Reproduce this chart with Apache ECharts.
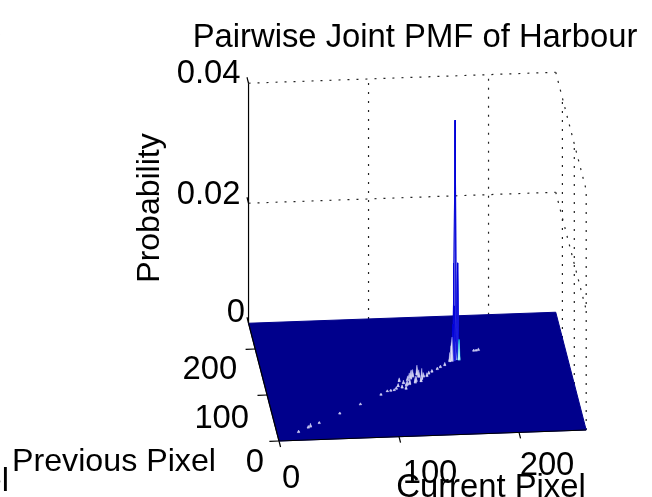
<!DOCTYPE html>
<html>
<head>
<meta charset="utf-8">
<style>html,body{margin:0;padding:0;background:#fff;overflow:hidden}#c{width:652px;height:497px}</style>
<script src="https://cdn.jsdelivr.net/npm/echarts@6/dist/echarts.min.js"></script>
</head>
<body>
<div id="c"></div>
<script>
// ---- data ----
var chartTitle = 'Pairwise Joint PMF of Harbour';
var currentTicks = [0, 100, 200];
var previousTicks = [0, 100, 200];
var probabilityTicks = [0, 0.02, 0.04];
var probabilityTickLabels = ['0', '0.02', '0.04'];
// non-zero cells of the joint PMF
var currentPixel = [18,27,29,37,56,75,94,
  100,103,106,108,110,113,115,117,119,120,122,124,126,128,129,131,133,136,138,141,146,149,153,
  112,116,121,125,130,118,123,
  180,182,184,
  158,159,160,161,161,162,165,163,166,162,163];
var previousPixel = [17,26,28,35,54,72,91,
  98,99,100,103,108,105,114,109,120,112,124,128,118,132,127,122,127,128,133,137,142,146,150,
  119,102,125,115,117,111,130,
  179,179,180,
  158,159,159,160,162,161,163,162,161,163,163];
var probability = [0.0004,0.0004,0.0006,0.0003,0.0003,0.0003,0.0003,
  0.0003,0.0003,0.0003,0.0004,0.0005,0.0005,0.0006,0.0007,0.0008,0.001,0.0012,0.0012,0.0008,0.0016,0.0012,0.0018,0.0007,0.0006,0.0005,0.0004,0.0004,0.0004,0.0005,
  0.0006,0.0005,0.0009,0.0011,0.0008,0.0007,0.001,
  0.0003,0.0003,0.0004,
  0.0015,0.0025,0.004,0.006,0.004,0.009,0.016,0.003,0.0034,0.016,0.0398];

// ---- view of the 3-D box ----
var DOMAIN = 256, ZMAX = 0.04;
var view = {ox: 279, oy: 441, xx: 1.2, xy: -0.043, yx: -0.119, yy: -0.46, zy: -6000};
function project(x, y, z) {
  return [view.ox + view.xx * x + view.yx * y, view.oy + view.xy * x + view.yy * y + view.zy * z];
}
var FONT = '32.8px "Liberation Sans", Arial, sans-serif';
var INK = '#000', DOT = '#222', FLOOR = '#00008c', SPIKE = '#0000d8';

// ---- mesh quads round every non-zero vertex ----
var heights = {};
currentPixel.forEach(function (x, i) { heights[x + '_' + previousPixel[i]] = probability[i]; });
function h(x, y) { return heights[x + '_' + y] || 0; }
var quadSet = {};
currentPixel.forEach(function (x, i) {
  var y = previousPixel[i];
  [[x-1,y-1],[x,y-1],[x-1,y],[x,y]].forEach(function (q) { quadSet[q[0] + '_' + q[1]] = q; });
});
var quads = Object.keys(quadSet).map(function (k) { return quadSet[k]; });
quads.sort(function (a, b) { return b[1] - a[1] || a[0] - b[0]; });
function edgeColor(z) {
  if (z >= 0.0032 && z < 0.0036) return '#00c8e0';
  if (z >= 0.006) return SPIKE;
  return '#8a8ae0';
}

// ---- box segments ----
var dotted = [];
probabilityTicks.slice(1).forEach(function (z) {
  dotted.push([0, DOMAIN, z, DOMAIN, DOMAIN, z]);
  dotted.push([DOMAIN, DOMAIN, z, DOMAIN, 0, z]);
});
currentTicks.slice(1).forEach(function (x) { dotted.push([x, DOMAIN, 0, x, DOMAIN, ZMAX]); });
previousTicks.forEach(function (y) { dotted.push([DOMAIN, y, 0, DOMAIN, y, ZMAX]); });

var solid = [
  [0, DOMAIN, 0, 0, DOMAIN, ZMAX],
  [0, DOMAIN, 0, 0, 0, 0],
  [0, 0, 0, DOMAIN, 0, 0]
];
currentTicks.forEach(function (x) { solid.push([x, 0, 0, x, -13, 0]); });
previousTicks.forEach(function (y) { solid.push([0, y, 0, -8, y, 0]); });
probabilityTicks.forEach(function (z) { solid.push([0, DOMAIN, z, 0, DOMAIN + 13, z]); });

// ---- tick label placement relative to the projected tick ----
var labelItems = [];
var zOff = [[-3.5, -10], [-8, -8], [-8, -9]];
probabilityTicks.forEach(function (z, i) {
  labelItems.push({p: [0, DOMAIN, z], t: probabilityTickLabels[i], dx: zOff[i][0], dy: zOff[i][1], a: 'right'});
});
var yOff = [[-15, 22], [-18, 24], [-18, 21]];
previousTicks.forEach(function (y, i) {
  labelItems.push({p: [0, y, 0], t: String(y), dx: yOff[i][0], dy: yOff[i][1], a: 'right'});
});
var xOff = [[12, 38], [31, 37], [28, 34]];
currentTicks.forEach(function (x, i) {
  labelItems.push({p: [x, 0, 0], t: String(x), dx: xOff[i][0], dy: xOff[i][1], a: 'center'});
});

function segmentSeries(segs, style) {
  return {
    type: 'custom', coordinateSystem: 'cartesian2d', clip: false, silent: true,
    data: segs,
    renderItem: function (params, api) {
      var s = segs[params.dataIndex];
      return {
        type: 'line',
        shape: (function () {
          var a = api.coord(project(s[0], s[1], s[2])), b = api.coord(project(s[3], s[4], s[5]));
          return {x1: a[0], y1: a[1], x2: b[0], y2: b[1]};
        })(),
        style: style
      };
    }
  };
}

var option = {
  animation: false,
  backgroundColor: '#fff',
  grid: {left: 0, right: 0, top: 0, bottom: 0},
  xAxis: {type: 'value', min: 0, max: 652, show: false},
  yAxis: {type: 'value', min: 0, max: 497, inverse: true, show: false},
  graphic: [
    {type: 'text', x: 415, y: 38, style: {text: chartTitle, font: FONT, fill: INK, textAlign: 'center', textVerticalAlign: 'middle'}},
    {type: 'text', x: 114, y: 462, style: {text: 'Previous Pixel', font: '32.2px "Liberation Sans", Arial, sans-serif', fill: INK, textAlign: 'center', textVerticalAlign: 'middle'}},
    {type: 'text', x: 491, y: 488, style: {text: 'Current Pixel', font: FONT, fill: INK, textAlign: 'center', textVerticalAlign: 'middle'}},
    {type: 'text', x: 150, y: 208, rotation: Math.PI / 2, style: {text: 'Probability', font: '32px "Liberation Sans", Arial, sans-serif', fill: INK, textAlign: 'center', textVerticalAlign: 'middle'}},
    {type: 'text', x: 1.5, y: 34, style: {text: 'e', font: FONT, fill: INK, textAlign: 'right', textVerticalAlign: 'middle'}},
    {type: 'text', x: 9, y: 482, style: {text: 'el', font: FONT, fill: INK, textAlign: 'right', textVerticalAlign: 'middle'}}
  ],
  series: [
    segmentSeries(dotted, {stroke: DOT, lineWidth: 1.2, lineDash: [2, 7]}),
    {
      type: 'custom', coordinateSystem: 'cartesian2d', clip: false, silent: true,
      data: [[0]],
      renderItem: function (params, api) {
        var pts = [[0,0],[DOMAIN,0],[DOMAIN,DOMAIN],[0,DOMAIN]].map(function (c) { return api.coord(project(c[0], c[1], 0)); });
        return {type: 'polygon', shape: {points: pts}, style: {fill: FLOOR, stroke: FLOOR, lineWidth: 1}};
      }
    },
    {
      type: 'custom', coordinateSystem: 'cartesian2d', clip: false, silent: true,
      data: quads,
      renderItem: function (params, api) {
        var q = quads[params.dataIndex], x = q[0], y = q[1];
        var cs = [[x,y],[x+1,y],[x+1,y+1],[x,y+1]];
        var zmax = 0;
        var pts = cs.map(function (c) { var z = h(c[0], c[1]); zmax = Math.max(zmax, z); return api.coord(project(c[0], c[1], z)); });
        return {type: 'polygon', shape: {points: pts}, style: {fill: '#fff', stroke: edgeColor(zmax), lineWidth: zmax >= 0.006 ? 0.9 : 0.25}};
      }
    },
    segmentSeries(solid, {stroke: INK, lineWidth: 1.2}),
    {
      type: 'custom', coordinateSystem: 'cartesian2d', clip: false, silent: true,
      data: labelItems,
      renderItem: function (params, api) {
        var it = labelItems[params.dataIndex];
        var c = api.coord(project(it.p[0], it.p[1], it.p[2]));
        return {type: 'text', x: c[0] + it.dx, y: c[1] + it.dy,
          style: {text: it.t, font: FONT, fill: INK, textAlign: it.a, textVerticalAlign: 'middle'}};
      }
    }
  ]
};
echarts.init(document.getElementById('c'), null, {renderer: 'canvas'}).setOption(option);
</script>
</body>
</html>
